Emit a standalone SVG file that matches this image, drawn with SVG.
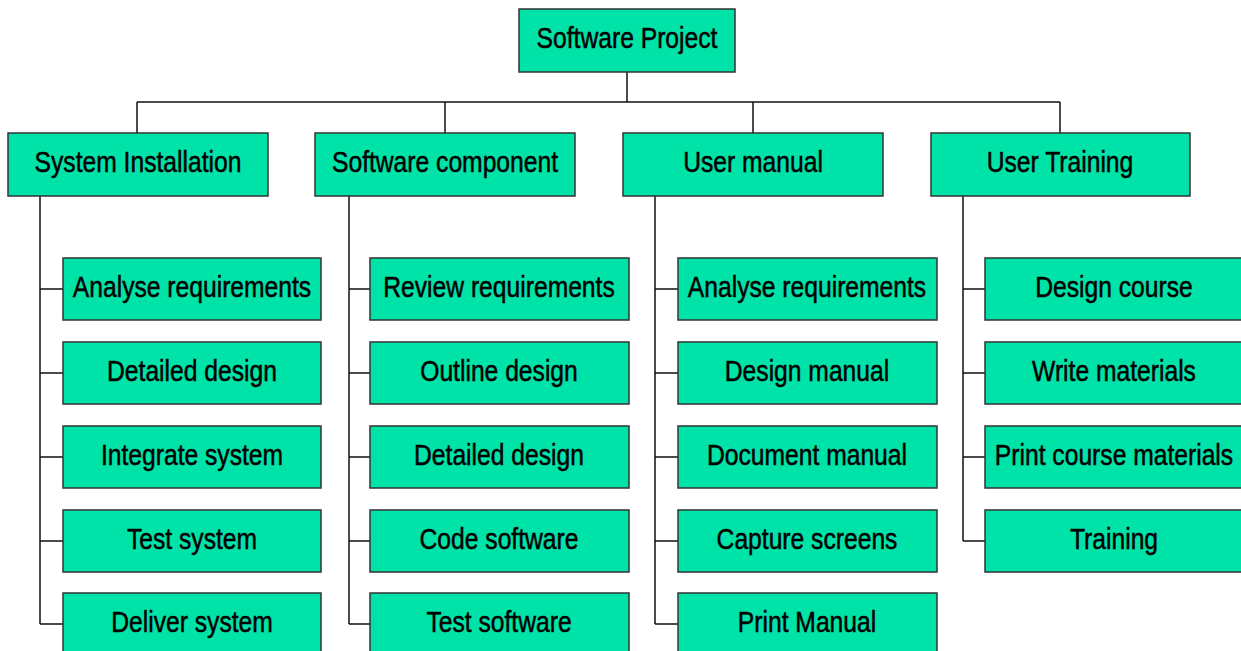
<svg xmlns="http://www.w3.org/2000/svg" width="1241" height="651" viewBox="0 0 1241 651">
<style>
.b{fill:#00E3A8;stroke:#333;stroke-width:1.5}
.t{font-family:"Liberation Sans",Arial,sans-serif;font-size:29px;fill:#000;stroke:#000;stroke-width:0.5;text-anchor:middle}
.c{fill:none;stroke:#111;stroke-width:1.5}
</style>
<rect width="1241" height="651" fill="#fff"/>
<g id="connectors" class="c">
<path d="M627 72V102M137 102H1060M137 102V133M445 102V133M753 102V133M1060 102V133"/>
<path d="M40 196V624M40 289H63M40 373H63M40 457H63M40 541H63M40 624H63"/>
<path d="M349 196V624M349 289H370M349 373H370M349 457H370M349 541H370M349 624H370"/>
<path d="M655 196V624M655 289H678M655 373H678M655 457H678M655 541H678M655 624H678"/>
<path d="M963 196V541M963 289H985M963 373H985M963 457H985M963 541H985"/>
</g>
<g id="root"><rect class="b" x="519" y="9" width="216" height="63"/><text class="t" transform="translate(627,48) scale(0.85,1)">Software Project</text></g>
<g id="sysinst"><rect class="b" x="8" y="133" width="260" height="63"/><text class="t" transform="translate(138,172) scale(0.85,1)">System Installation</text></g>
<g id="swcomp"><rect class="b" x="315" y="133" width="260" height="63"/><text class="t" transform="translate(445,172) scale(0.85,1)">Software component</text></g>
<g id="usermanual"><rect class="b" x="623" y="133" width="260" height="63"/><text class="t" transform="translate(753,172) scale(0.85,1)">User manual</text></g>
<g id="usertraining"><rect class="b" x="931" y="133" width="259" height="63"/><text class="t" transform="translate(1060,172) scale(0.85,1)">User Training</text></g>

<g id="si1"><rect class="b" x="63" y="258" width="258" height="62"/><text class="t" transform="translate(192,297) scale(0.85,1)">Analyse requirements</text></g>
<g id="si2"><rect class="b" x="63" y="342" width="258" height="62"/><text class="t" transform="translate(192,381) scale(0.85,1)">Detailed design</text></g>
<g id="si3"><rect class="b" x="63" y="426" width="258" height="62"/><text class="t" transform="translate(192,465) scale(0.85,1)">Integrate system</text></g>
<g id="si4"><rect class="b" x="63" y="510" width="258" height="62"/><text class="t" transform="translate(192,549) scale(0.85,1)">Test system</text></g>
<g id="si5"><rect class="b" x="63" y="593" width="258" height="62"/><text class="t" transform="translate(192,632) scale(0.85,1)">Deliver system</text></g>

<g id="sc1"><rect class="b" x="370" y="258" width="259" height="62"/><text class="t" transform="translate(499,297) scale(0.85,1)">Review requirements</text></g>
<g id="sc2"><rect class="b" x="370" y="342" width="259" height="62"/><text class="t" transform="translate(499,381) scale(0.85,1)">Outline design</text></g>
<g id="sc3"><rect class="b" x="370" y="426" width="259" height="62"/><text class="t" transform="translate(499,465) scale(0.85,1)">Detailed design</text></g>
<g id="sc4"><rect class="b" x="370" y="510" width="259" height="62"/><text class="t" transform="translate(499,549) scale(0.85,1)">Code software</text></g>
<g id="sc5"><rect class="b" x="370" y="593" width="259" height="62"/><text class="t" transform="translate(499,632) scale(0.85,1)">Test software</text></g>

<g id="um1"><rect class="b" x="678" y="258" width="259" height="62"/><text class="t" transform="translate(807,297) scale(0.85,1)">Analyse requirements</text></g>
<g id="um2"><rect class="b" x="678" y="342" width="259" height="62"/><text class="t" transform="translate(807,381) scale(0.85,1)">Design manual</text></g>
<g id="um3"><rect class="b" x="678" y="426" width="259" height="62"/><text class="t" transform="translate(807,465) scale(0.85,1)">Document manual</text></g>
<g id="um4"><rect class="b" x="678" y="510" width="259" height="62"/><text class="t" transform="translate(807,549) scale(0.85,1)">Capture screens</text></g>
<g id="um5"><rect class="b" x="678" y="593" width="259" height="62"/><text class="t" transform="translate(807,632) scale(0.85,1)">Print Manual</text></g>

<g id="ut1"><rect class="b" x="985" y="258" width="260" height="62"/><text class="t" transform="translate(1114,297) scale(0.85,1)">Design course</text></g>
<g id="ut2"><rect class="b" x="985" y="342" width="260" height="62"/><text class="t" transform="translate(1114,381) scale(0.85,1)">Write materials</text></g>
<g id="ut3"><rect class="b" x="985" y="426" width="260" height="62"/><text class="t" transform="translate(1114,465) scale(0.85,1)">Print course materials</text></g>
<g id="ut4"><rect class="b" x="985" y="510" width="260" height="62"/><text class="t" transform="translate(1114,549) scale(0.85,1)">Training</text></g>
</svg>
